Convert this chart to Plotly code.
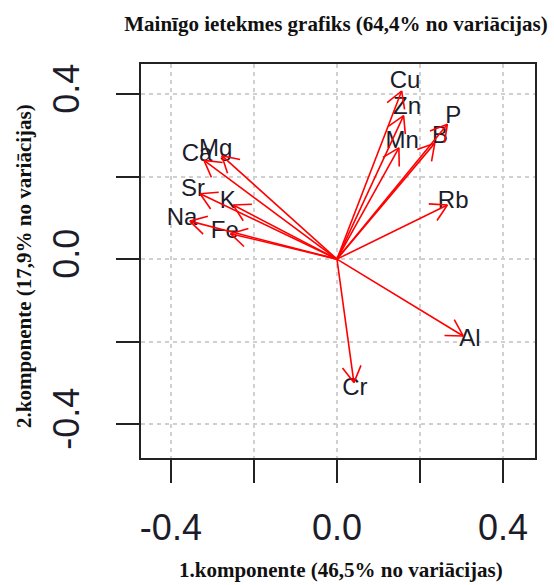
import numpy as np
import plotly.graph_objects as go

# Variable loadings (label positions)
variables = ["Cu", "Zn", "Mn", "P", "B", "Rb", "Al", "Cr", "Mg", "Ca", "Sr", "K", "Na", "Fe"]
pc1 = [0.164, 0.169, 0.157, 0.280, 0.248, 0.280, 0.320, 0.043, -0.292, -0.337, -0.347, -0.263, -0.373, -0.270]
pc2 = [0.429, 0.366, 0.284, 0.344, 0.296, 0.138, -0.196, -0.315, 0.264, 0.252, 0.167, 0.138, 0.097, 0.065]

tick_vals = [-0.4, -0.2, 0.0, 0.2, 0.4]
tick_text = ["-0.4", "", "0.0", "", "0.4"]

title_text = "Mainīgo ietekmes grafiks (64,4% no variācijas)"
x_title = "1.komponente (46,5% no variācijas)"
y_title = "2.komponente (17,9% no variācijas)"

W, H = 554, 585
ML, MR, MT, MB = 141, 19, 64, 127
x_range = [-0.472, 0.477]
y_range = [-0.482, 0.473]

tip_scale = 0.95
head_len = 0.045
head_ang = np.deg2rad(30)

xs, ys = [], []
for px, py in zip(pc1, pc2):
    tx, ty = px * tip_scale, py * tip_scale
    xs += [0, tx, None]
    ys += [0, ty, None]
    th = np.arctan2(ty, tx)
    for s in (1, -1):
        xs += [tx, tx - head_len * np.cos(th + s * head_ang), None]
        ys += [ty, ty - head_len * np.sin(th + s * head_ang), None]

fig = go.Figure()
fig.add_trace(go.Scatter(
    x=pc1, y=pc2, mode="text", text=variables,
    textposition="middle center",
    textfont=dict(family="Liberation Sans, Arial", size=24, color="#1c1c2a"),
    hoverinfo="skip", showlegend=False))
fig.add_trace(go.Scatter(
    x=xs, y=ys, mode="lines",
    line=dict(color="#ff0000", width=1.6),
    hoverinfo="skip", showlegend=False))

axis_common = dict(
    tickmode="array", tickvals=tick_vals, ticktext=tick_text,
    ticks="outside", ticklen=23, tickwidth=2, tickcolor="#222",
    showline=True, linewidth=2, linecolor="#222", mirror=True,
    showgrid=True, gridcolor="#d0d0d0", gridwidth=1.5, griddash="4px,4px",
    zeroline=False,
    tickfont=dict(family="Liberation Sans, Arial", size=36, color="#1c1c2a"),
)

fig.update_xaxes(range=x_range, ticklabelstandoff=14, **axis_common)
fig.update_yaxes(range=y_range, tickangle=-90, ticklabelstandoff=23, **axis_common)

plot_w = W - ML - MR
plot_h = H - MT - MB

fig.update_layout(
    width=W, height=H,
    margin=dict(l=ML, r=MR, t=MT, b=MB),
    paper_bgcolor="white", plot_bgcolor="white",
    title=dict(text="<b>" + title_text + "</b>",
               x=336 / W, xanchor="center", xref="container",
               y=1 - 24 / H, yanchor="middle", yref="container",
               font=dict(family="Liberation Serif, Times New Roman", size=21, color="#111")),
    annotations=[
        dict(text="<b>" + x_title + "</b>", xref="paper", yref="paper",
             x=(341 - ML) / plot_w, y=(H - MB - 570) / plot_h,
             xanchor="center", yanchor="middle", showarrow=False,
             font=dict(family="Liberation Serif, Times New Roman", size=21, color="#111")),
        dict(text="<b>" + y_title + "</b>", xref="paper", yref="paper",
             x=(24 - ML) / plot_w, y=(H - MB - 266) / plot_h,
             xanchor="center", yanchor="middle", showarrow=False, textangle=-90,
             font=dict(family="Liberation Serif, Times New Roman", size=21, color="#111")),
    ],
)

fig.write_html("out.html")
